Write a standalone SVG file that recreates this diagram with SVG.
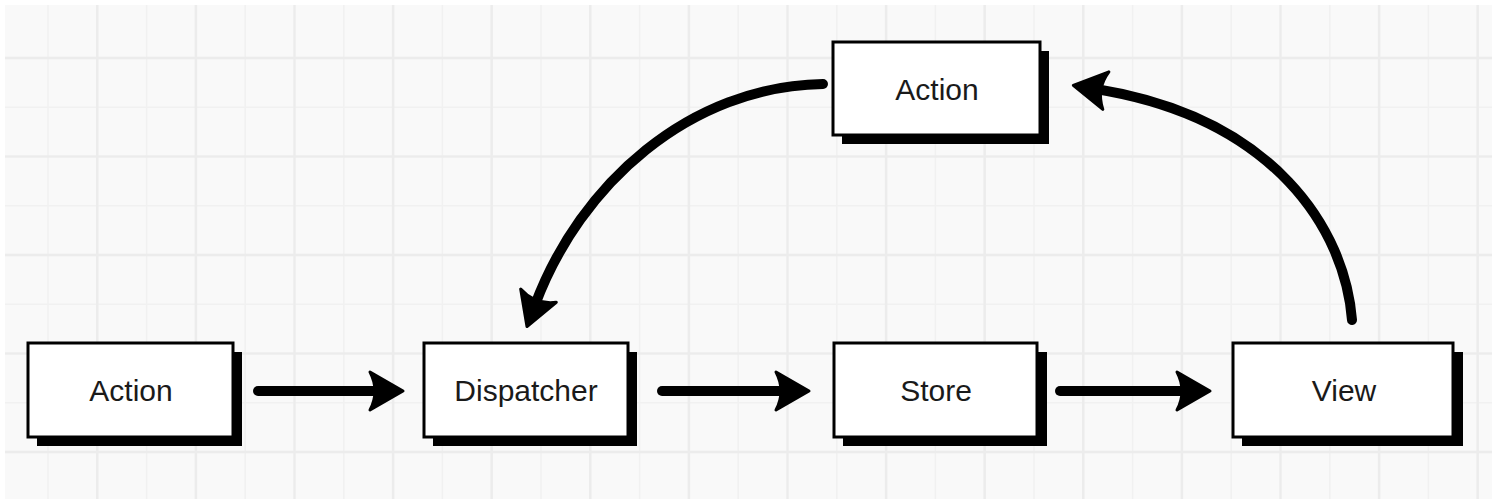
<svg xmlns="http://www.w3.org/2000/svg" width="1500" height="499" viewBox="0 0 1500 499">
  <defs>
    <style>
      .bg { fill: #ffffff; }
      .paper { fill: #f9f9f9; }
      .minor { stroke: #f1f1f1; stroke-width: 1.5; }
      .major { stroke: #ececec; stroke-width: 2.5; }
      .shadow { fill: #000000; }
      .box { fill: #ffffff; stroke: #000000; stroke-width: 3; }
      .label { font-family: "Liberation Sans", Arial, sans-serif; font-size: 30px; fill: #1a1a1a; text-anchor: middle; }
      .conn { fill: none; stroke: #000000; stroke-width: 10; stroke-linecap: round; }
    </style>
    <marker id="head" markerUnits="userSpaceOnUse" viewBox="0 0 40 42" markerWidth="40" markerHeight="42" refX="15" refY="21" orient="auto" overflow="visible">
      <path d="M38,21 L5,2 Q15,21 5,40 Z" fill="#000000" stroke="#000000" stroke-width="3" stroke-linejoin="round"/>
    </marker>
  </defs>

  <rect class="bg" x="0" y="0" width="1500" height="499"/>
  <rect class="paper" x="5" y="5" width="1487" height="494"/>

  <g id="grid">
    <g class="minor">
      <line x1="48" y1="5" x2="48" y2="499"/>
      <line x1="146.6" y1="5" x2="146.6" y2="499"/>
      <line x1="245.2" y1="5" x2="245.2" y2="499"/>
      <line x1="343.8" y1="5" x2="343.8" y2="499"/>
      <line x1="442.4" y1="5" x2="442.4" y2="499"/>
      <line x1="541" y1="5" x2="541" y2="499"/>
      <line x1="639.6" y1="5" x2="639.6" y2="499"/>
      <line x1="738.2" y1="5" x2="738.2" y2="499"/>
      <line x1="836.8" y1="5" x2="836.8" y2="499"/>
      <line x1="935.4" y1="5" x2="935.4" y2="499"/>
      <line x1="1034" y1="5" x2="1034" y2="499"/>
      <line x1="1132.6" y1="5" x2="1132.6" y2="499"/>
      <line x1="1231.2" y1="5" x2="1231.2" y2="499"/>
      <line x1="1329.8" y1="5" x2="1329.8" y2="499"/>
      <line x1="1428.4" y1="5" x2="1428.4" y2="499"/>
      <line x1="5" y1="107.25" x2="1492" y2="107.25"/>
      <line x1="5" y1="205.75" x2="1492" y2="205.75"/>
      <line x1="5" y1="304.25" x2="1492" y2="304.25"/>
      <line x1="5" y1="402.75" x2="1492" y2="402.75"/>
    </g>
    <g class="major">
      <line x1="97.3" y1="5" x2="97.3" y2="499"/>
      <line x1="195.9" y1="5" x2="195.9" y2="499"/>
      <line x1="294.5" y1="5" x2="294.5" y2="499"/>
      <line x1="393.1" y1="5" x2="393.1" y2="499"/>
      <line x1="491.7" y1="5" x2="491.7" y2="499"/>
      <line x1="590.3" y1="5" x2="590.3" y2="499"/>
      <line x1="688.9" y1="5" x2="688.9" y2="499"/>
      <line x1="787.5" y1="5" x2="787.5" y2="499"/>
      <line x1="886.1" y1="5" x2="886.1" y2="499"/>
      <line x1="984.7" y1="5" x2="984.7" y2="499"/>
      <line x1="1083.3" y1="5" x2="1083.3" y2="499"/>
      <line x1="1181.9" y1="5" x2="1181.9" y2="499"/>
      <line x1="1280.5" y1="5" x2="1280.5" y2="499"/>
      <line x1="1379.1" y1="5" x2="1379.1" y2="499"/>
      <line x1="1477.7" y1="5" x2="1477.7" y2="499"/>
      <line x1="5" y1="58" x2="1492" y2="58"/>
      <line x1="5" y1="156.5" x2="1492" y2="156.5"/>
      <line x1="5" y1="255" x2="1492" y2="255"/>
      <line x1="5" y1="353.5" x2="1492" y2="353.5"/>
      <line x1="5" y1="452" x2="1492" y2="452"/>
    </g>
  </g>

  <g id="connectors">
    <path class="conn" d="M258,391 L380,391" marker-end="url(#head)"/>
    <path class="conn" d="M662,391 L786,391" marker-end="url(#head)"/>
    <path class="conn" d="M1060,391 L1187,391" marker-end="url(#head)"/>
    <path class="conn" d="M823,84 C690,86 580,184 535,305" marker-end="url(#head)"/>
    <path class="conn" d="M1352,320 C1345,230 1275,118 1096,89" marker-end="url(#head)"/>
  </g>

  <g id="node-action-left">
    <rect class="shadow" x="37" y="352" width="205" height="94"/>
    <rect class="box" x="28" y="343" width="205" height="94"/>
    <text class="label" x="131" y="401">Action</text>
  </g>
  <g id="node-dispatcher">
    <rect class="shadow" x="433" y="352" width="204" height="94"/>
    <rect class="box" x="424" y="343" width="204" height="94"/>
    <text class="label" x="526" y="401">Dispatcher</text>
  </g>
  <g id="node-store">
    <rect class="shadow" x="843" y="352" width="204" height="94"/>
    <rect class="box" x="834" y="343" width="203" height="94"/>
    <text class="label" x="936" y="401">Store</text>
  </g>
  <g id="node-view">
    <rect class="shadow" x="1242" y="352" width="221" height="94"/>
    <rect class="box" x="1233" y="343" width="220" height="94"/>
    <text class="label" x="1344" y="401">View</text>
  </g>
  <g id="node-action-top">
    <rect class="shadow" x="842" y="51" width="207" height="93"/>
    <rect class="box" x="833" y="42" width="207" height="93"/>
    <text class="label" x="937" y="100">Action</text>
  </g>
</svg>
